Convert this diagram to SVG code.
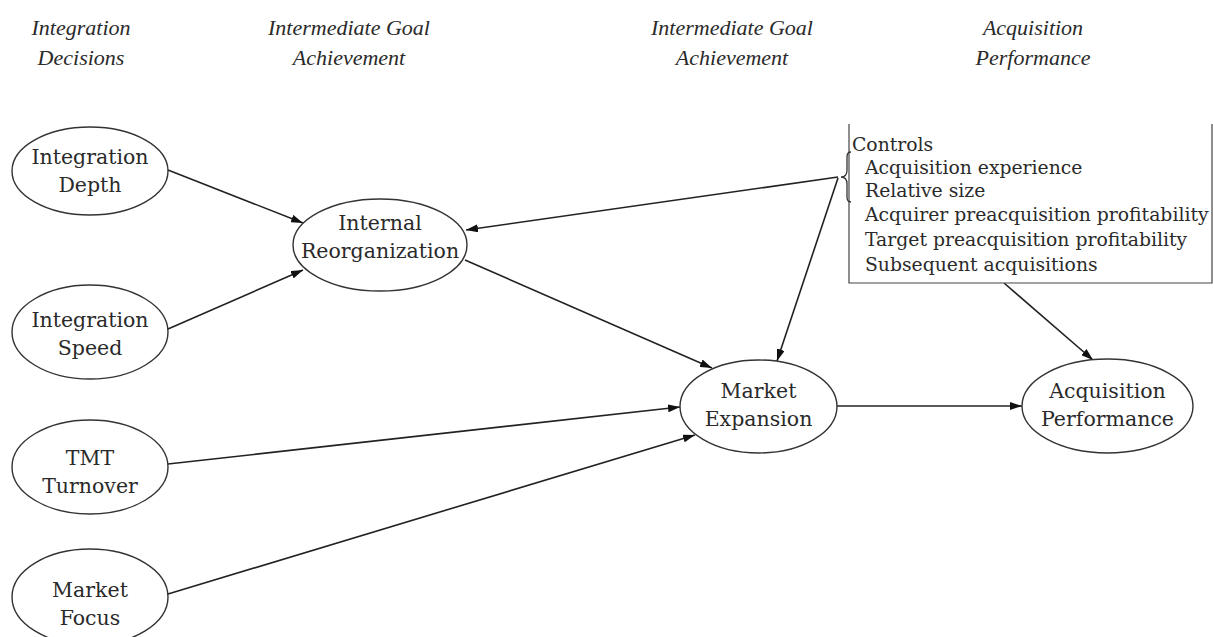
<svg xmlns="http://www.w3.org/2000/svg" width="1213" height="637" viewBox="0 0 1213 637">
<defs>
<style>
.hdr{font-family:"Liberation Serif","DejaVu Serif",serif;font-style:italic;font-size:22px;fill:#2a2a2a;text-anchor:middle}
.lbl{font-family:"DejaVu Serif","Liberation Serif",serif;font-size:20.5px;fill:#2a2a2a;text-anchor:middle}
.ctl{font-family:"DejaVu Serif","Liberation Serif",serif;font-size:18.8px;fill:#2a2a2a}
.node{fill:#fff;stroke:#333;stroke-width:1.4}
.edge{stroke:#222;stroke-width:1.6;fill:none;marker-end:url(#ah)}
</style>
<marker id="ah" viewBox="0 0 12 8" refX="12" refY="4" markerWidth="12" markerHeight="8" markerUnits="userSpaceOnUse" orient="auto">
<path d="M0,0 L12,4 L0,8 Z" fill="#111"/>
</marker>
</defs>
<rect width="1213" height="637" fill="#fff"/>
<g id="headers">
<text class="hdr" x="81" y="35">Integration</text>
<text class="hdr" x="81" y="65">Decisions</text>
<text class="hdr" x="349" y="35">Intermediate Goal</text>
<text class="hdr" x="349" y="65">Achievement</text>
<text class="hdr" x="732" y="35">Intermediate Goal</text>
<text class="hdr" x="732" y="65">Achievement</text>
<text class="hdr" x="1033" y="35">Acquisition</text>
<text class="hdr" x="1033" y="65">Performance</text>
</g>
<g id="connectors">
<line class="edge" x1="168" y1="170" x2="303" y2="223"/>
<line class="edge" x1="168" y1="329" x2="303" y2="270"/>
<line class="edge" x1="838" y1="177" x2="466" y2="230"/>
<line class="edge" x1="465" y1="260" x2="712" y2="368"/>
<line class="edge" x1="838" y1="178" x2="777" y2="361"/>
<line class="edge" x1="168" y1="464" x2="680" y2="407"/>
<line class="edge" x1="168" y1="594" x2="695" y2="435"/>
<line class="edge" x1="837" y1="406" x2="1022" y2="406"/>
<line class="edge" x1="1004" y1="283" x2="1093" y2="360"/>
</g>
<g id="integration-depth">
<ellipse class="node" cx="90" cy="171" rx="78" ry="44"/>
<text class="lbl" x="90" y="164">Integration</text>
<text class="lbl" x="90" y="192">Depth</text>
</g>
<g id="integration-speed">
<ellipse class="node" cx="90" cy="332" rx="78" ry="47"/>
<text class="lbl" x="90" y="327">Integration</text>
<text class="lbl" x="90" y="355">Speed</text>
</g>
<g id="tmt-turnover">
<ellipse class="node" cx="90" cy="467" rx="78" ry="47"/>
<text class="lbl" x="90" y="465">TMT</text>
<text class="lbl" x="90" y="493">Turnover</text>
</g>
<g id="market-focus">
<ellipse class="node" cx="90" cy="597" rx="78" ry="48"/>
<text class="lbl" x="90" y="597">Market</text>
<text class="lbl" x="90" y="625">Focus</text>
</g>
<g id="internal-reorganization">
<ellipse class="node" cx="380" cy="245" rx="87" ry="46"/>
<text class="lbl" x="380" y="230">Internal</text>
<text class="lbl" x="380" y="258">Reorganization</text>
</g>
<g id="market-expansion">
<ellipse class="node" cx="758.5" cy="406.5" rx="78.5" ry="46.5"/>
<text class="lbl" x="758.5" y="398">Market</text>
<text class="lbl" x="758.5" y="426">Expansion</text>
</g>
<g id="acquisition-performance">
<ellipse class="node" cx="1107.5" cy="406" rx="85.5" ry="47"/>
<text class="lbl" x="1107.5" y="398">Acquisition</text>
<text class="lbl" x="1107.5" y="426">Performance</text>
</g>
<g id="controls">
<path d="M849,124 V283 H1212 V124" fill="#fff" stroke="#444" stroke-width="1.2"/>
<path d="M851,152 q-4,0 -4,5 v13 q0,7 -6,7 q6,0 6,7 v13 q0,5 4,5" fill="none" stroke="#333" stroke-width="1.3"/>
<text class="ctl" x="852" y="151">Controls</text>
<text class="ctl" x="865" y="174">Acquisition experience</text>
<text class="ctl" x="865" y="197">Relative size</text>
<text class="ctl" x="865" y="221">Acquirer preacquisition profitability</text>
<text class="ctl" x="865" y="246">Target preacquisition profitability</text>
<text class="ctl" x="865" y="271">Subsequent acquisitions</text>
</g>
</svg>
